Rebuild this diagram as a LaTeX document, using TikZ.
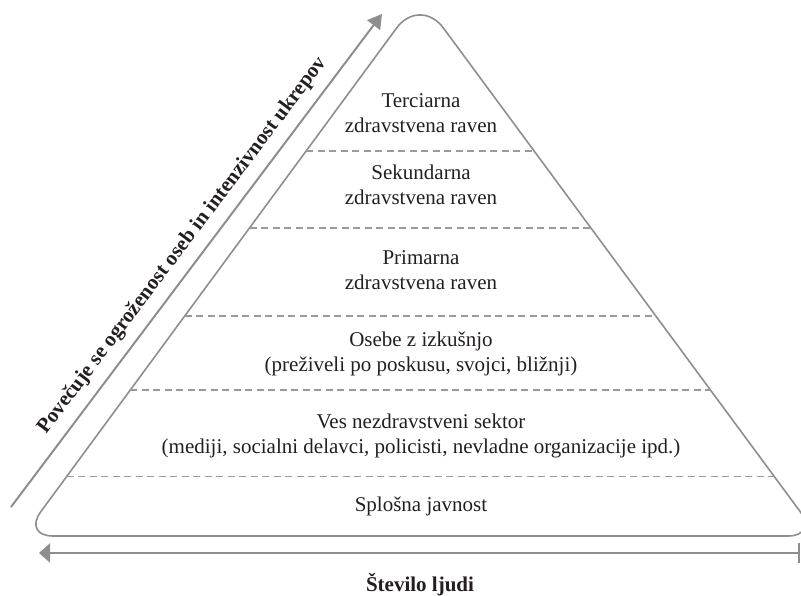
\documentclass[tikz,border=0pt]{standalone}
\usepackage{fontspec}
\setmainfont{Liberation Serif}
\usetikzlibrary{arrows.meta}
\definecolor{ink}{HTML}{231F20}
\definecolor{linegray}{HTML}{8E8E90}
\definecolor{dashgray}{HTML}{9A9A9C}
\tikzset{
  tri/.style={draw=linegray, line width=1.6pt},
  sep/.style={draw=dashgray, line width=1.5pt, dash pattern=on 7pt off 4.5pt},
  axis/.style={draw=linegray, line width=2pt},
  lvl/.style={anchor=base, inner sep=0pt, text=ink, font=\fontsize{21}{25}\selectfont},
  boldlbl/.style={inner sep=0pt, text=ink, font=\fontsize{21}{25}\selectfont\bfseries},
}
\newcommand{\twolines}[2]{\begin{tabular}[t]{@{}c@{}}#1\\#2\end{tabular}}
\begin{document}
\begin{tikzpicture}[x=1pt, y=-1pt]
\useasboundingbox (0,0) rectangle (801,596);
\clip (0,0) rectangle (801,596);
% pyramid outline
\draw[tri] (53,536) -- (788,536)
  .. controls (804.6,536) and (810.1,525.2) .. (800.3,511.8)
  -- (443.6,28.3)
  .. controls (430.6,10.5) and (409.4,10.5) .. (396.4,28.3)
  -- (40.7,511.8)
  .. controls (30.9,525.2) and (36.4,536) .. (53,536) -- cycle;
% separators
\draw[sep] (306.1,151) -- (534.9,151);
\draw[sep] (249.5,228) -- (591.5,228);
\draw[sep] (184.8,316) -- (656.2,316);
\draw[sep] (130.4,390) -- (710.6,390);
\draw[sep] (66.6,476.7) -- (774.4,476.7);
% level texts
\node[lvl] (terc) at (421,108) {\twolines{Terciarna}{zdravstvena raven}};
\node[lvl] (sek) at (421,180) {\twolines{Sekundarna}{zdravstvena raven}};
\node[lvl] (prim) at (421,265) {\twolines{Primarna}{zdravstvena raven}};
\node[lvl] (izk) at (421,346) {\twolines{Osebe z izkušnjo}{(preživeli po poskusu, svojci, bližnji)}};
\node[lvl] (nezd) at (421,428) {\twolines{Ves nezdravstveni sektor}{(mediji, socialni delavci, policisti, nevladne organizacije ipd.)}};
\node[lvl] (splo) at (421,511) {Splošna javnost};
% horizontal axis
\coordinate (hl) at (39,553);
\coordinate (hr) at (800,553);
\draw[axis, {Triangle[length=11pt,width=19pt]}-{Bar[width=20pt]}] (hl) -- (hr);
\node[boldlbl, anchor=base] (stev) at (420,591) {Število ljudi};
% diagonal axis
\coordinate (da) at (11,507);
\coordinate (db) at (382,14);
\draw[axis, -{Triangle[length=14pt,width=16pt]}] (da) -- (db);
\node[boldlbl, anchor=base, rotate=53] (pov) at (186.3,248.9) {Povečuje se ogroženost oseb in intenzivnost ukrepov};
\end{tikzpicture}
\end{document}
